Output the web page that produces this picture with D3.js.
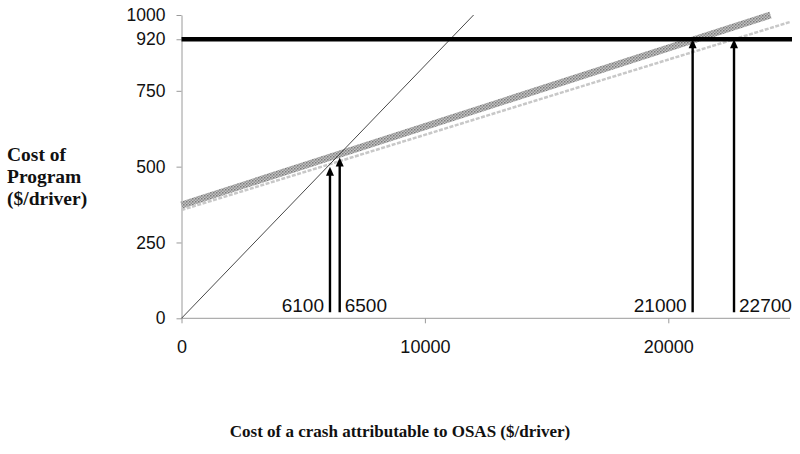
<!DOCTYPE html>
<html lang="en">
<head>
<meta charset="UTF-8">
<title>Cost of Program vs crash cost</title>
<script src="https://d3js.org/d3.v7.min.js"></script>
<style>
  body { margin: 0; background: #fff; }
  svg { display: block; }
</style>
</head>
<body>
<svg id="chart" width="800" height="454"></svg>
<script>
// --- data ---
const yTicks = [0, 250, 500, 750, 920, 1000];
const xTicks = [0, 10000, 20000];
const threshold = 920;

// break-even line (cost of program = expected crash savings)
const diagonalX = [0, 12000];
const diagonalY = [0, 1000];
// program cost lines
const darkX = [0, 24200];
const darkY = [373, 1000];
const lightX = [0, 25000];
const lightY = [357, 977];

// arrows marking the crossings
const arrowX = [6100, 6500, 21000, 22700];
const arrowTop = [500, 530, 920, 920];
const arrowSide = ["left", "right", "left", "right"];
const arrowBase = 20;

const svg = d3.select("#chart");

const x = d3.scaleLinear().domain([0, 25000]).range([181.5, 790]);
const y = d3.scaleLinear().domain([0, 1000]).range([318.3, 15]);

// axes
const yAxis = svg.append("g")
    .attr("transform", `translate(${x(0)},0)`)
    .call(d3.axisLeft(y).tickValues(yTicks).tickFormat(d3.format("d"))
        .tickSize(5).tickPadding(11).tickSizeOuter(0));
const xAxis = svg.append("g")
    .attr("transform", `translate(0,${y(0)})`)
    .call(d3.axisBottom(x).tickValues(xTicks).tickFormat(d3.format("d"))
        .tickSize(5).tickPadding(17).tickSizeOuter(0));

[yAxis, xAxis].forEach(a => {
    a.select(".domain").attr("stroke", "#9a9a9a");
    a.selectAll(".tick line").attr("stroke", "#9a9a9a");
    a.selectAll(".tick text")
        .attr("fill", "#111")
        .style("font-family", "'Liberation Sans', Arial, sans-serif")
        .style("font-size", "17.5px");
});
xAxis.selectAll(".tick text").style("font-size", "18px");
xAxis.select(".domain").attr("d", `M${x(0)},0H${x(25000)}`);

// mottled pattern for the dark line
const defs = svg.append("defs");
const pat = defs.append("pattern")
    .attr("id", "checker")
    .attr("width", 3).attr("height", 3)
    .attr("patternUnits", "userSpaceOnUse");
pat.append("rect").attr("width", 3).attr("height", 3).attr("fill", "#c2c2c2");
pat.append("rect").attr("width", 1.5).attr("height", 1.5).attr("fill", "#7c7c7c");
pat.append("rect").attr("x", 1.5).attr("y", 1.5).attr("width", 1.5).attr("height", 1.5).attr("fill", "#929292");

const line = d3.line().x(d => x(d[0])).y(d => y(d[1]));
const pts = (xs, ys) => xs.map((v, i) => [v, ys[i]]);

// light line
svg.append("path")
    .attr("d", line(pts(lightX, lightY)))
    .attr("fill", "none")
    .attr("stroke", "#c8c8c8")
    .attr("stroke-width", 2.5)
    .attr("stroke-dasharray", "4 1.5");

// dark mottled line
svg.append("path")
    .attr("d", line(pts(darkX, darkY)))
    .attr("fill", "none")
    .attr("stroke", "url(#checker)")
    .attr("stroke-width", 7);

// diagonal
svg.append("path")
    .attr("d", line(pts(diagonalX, diagonalY)))
    .attr("fill", "none")
    .attr("stroke", "#333")
    .attr("stroke-width", 0.9);

// threshold bar
svg.append("line")
    .attr("x1", x(0)).attr("x2", x(25000) + 2)
    .attr("y1", y(threshold)).attr("y2", y(threshold))
    .attr("stroke", "#000")
    .attr("stroke-width", 4.5);

// arrows
const arrows = svg.append("g");
arrowX.forEach((v, i) => {
    const ax = x(v), top = y(arrowTop[i]), bot = y(arrowBase);
    arrows.append("line")
        .attr("x1", ax).attr("x2", ax)
        .attr("y1", bot).attr("y2", top + 7)
        .attr("stroke", "#000").attr("stroke-width", 2.4);
    arrows.append("path")
        .attr("d", `M${ax},${top}L${ax - 4},${top + 9}L${ax + 4},${top + 9}Z`)
        .attr("fill", "#000");
    const left = arrowSide[i] === "left";
    arrows.append("text")
        .attr("x", left ? ax - 6 : ax + 5)
        .attr("y", bot)
        .attr("text-anchor", left ? "end" : "start")
        .style("font-family", "'Liberation Sans', Arial, sans-serif")
        .style("font-size", "19px")
        .attr("fill", "#111")
        .text(v);
});

// axis titles
const yTitle = svg.append("text")
    .style("font-family", "'Liberation Serif', 'Times New Roman', serif")
    .style("font-weight", "bold")
    .style("font-size", "19.5px")
    .attr("fill", "#111");
["Cost of", "Program", "($/driver)"].forEach((t, i) => {
    yTitle.append("tspan").attr("x", 7).attr("y", 161 + i * 22).text(t);
});

svg.append("text")
    .attr("x", 400).attr("y", 437)
    .attr("text-anchor", "middle")
    .style("font-family", "'Liberation Serif', 'Times New Roman', serif")
    .style("font-weight", "bold")
    .style("font-size", "17px")
    .attr("fill", "#111")
    .text("Cost of a crash attributable to OSAS ($/driver)");
</script>
</body>
</html>
